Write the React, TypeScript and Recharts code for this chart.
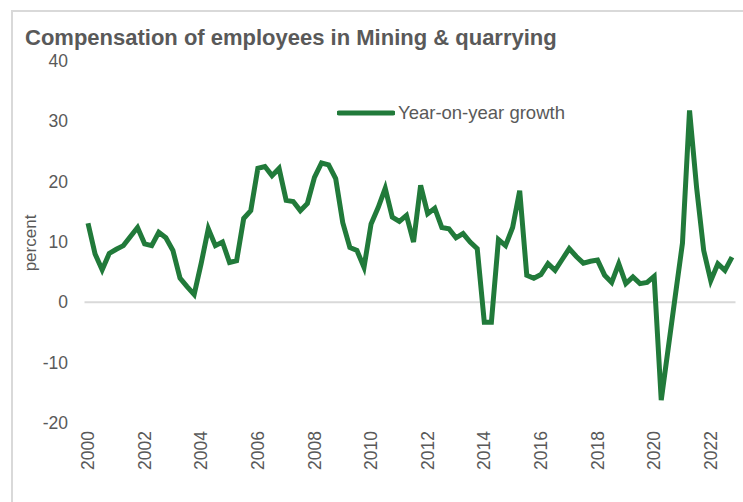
import React from 'react';
import { LineChart, Line, XAxis, YAxis, CartesianGrid } from 'recharts';

// Quarterly year-on-year growth, 2000 Q1 – 2022 Q4 (percent)
const years = [
  2000, 2001, 2002, 2003, 2004, 2005, 2006, 2007, 2008, 2009, 2010, 2011,
  2012, 2013, 2014, 2015, 2016, 2017, 2018, 2019, 2020, 2021, 2022,
];
const quarters = ['Q1', 'Q2', 'Q3', 'Q4'];
const growth = [
  13.1, 8.0, 5.4, 8.1,
  8.8, 9.4, 10.9, 12.4,
  9.7, 9.4, 11.6, 10.7,
  8.6, 4.0, 2.6, 1.3,
  6.5, 12.2, 9.4, 10.0,
  6.6, 6.9, 13.9, 15.2,
  22.2, 22.5, 21.0, 22.2,
  16.9, 16.7, 15.2, 16.4,
  20.7, 23.1, 22.8, 20.5,
  13.2, 9.1, 8.6, 5.8,
  13.0, 15.7, 18.9, 14.1,
  13.4, 14.4, 10.0, 19.4,
  14.7, 15.6, 12.4, 12.2,
  10.7, 11.4, 10.0, 8.9,
  -3.3, -3.3, 10.4, 9.4,
  12.4, 18.5, 4.5, 4.0,
  4.6, 6.4, 5.3, 7.1,
  8.9, 7.6, 6.5, 6.8,
  7.0, 4.5, 3.3, 6.4,
  3.1, 4.2, 3.1, 3.3,
  4.3, -16.2, -7.5, 1.2,
  9.8, 31.8, 19.0, 8.6,
  3.6, 6.4, 5.3, 7.5,
];
const yTicks = [-20, -10, 0, 10, 20, 30, 40];
const seriesName = 'Year-on-year growth';

const data = years.flatMap((y, i) =>
  quarters.map((q, j) => ({ period: `${y} ${q}`, growth: growth[i * 4 + j] }))
);

const FONT = '"Liberation Sans", Arial, sans-serif';
const TEXT = '#595959';
const GREEN = '#217a3a';

const XTick = ({ x, payload }: any) => (
  <text
    x={x}
    y={431}
    transform={`rotate(-90 ${x} 431)`}
    textAnchor="end"
    dy="0.35em"
    fill={TEXT}
    fontSize={17.5}
    fontFamily={FONT}
  >
    {String(payload.value).slice(0, 4)}
  </text>
);

const YTick = ({ y, payload }: any) => (
  <text x={68} y={y} textAnchor="end" dy="0.35em" fill={TEXT} fontSize={17.5} fontFamily={FONT}>
    {payload.value}
  </text>
);

export default function App() {
  return (
    <div style={{ position: 'absolute', left: 0, top: 0, width: 743, height: 502, background: '#fff', overflow: 'hidden' }}>
      <div
        style={{
          position: 'absolute',
          left: 11,
          top: 10,
          width: 760,
          height: 520,
          borderLeft: '2px solid #d9d9d9',
          borderTop: '2px solid #d9d9d9',
        }}
      />
      <div
        style={{
          position: 'absolute',
          left: 25,
          top: 27,
          fontFamily: FONT,
          fontWeight: 'bold',
          fontSize: 22,
          lineHeight: 1,
          color: TEXT,
          whiteSpace: 'nowrap',
        }}
      >
        Compensation of employees in Mining &amp; quarrying
      </div>
      <div
        style={{
          position: 'absolute',
          left: 31,
          top: 243,
          transform: 'translate(-50%, -50%) rotate(-90deg)',
          fontFamily: FONT,
          fontSize: 17,
          color: TEXT,
          whiteSpace: 'nowrap',
        }}
      >
        percent
      </div>
      <div style={{ position: 'absolute', left: 0, top: 0 }}>
        <LineChart width={743} height={502} data={data} margin={{ top: 61, right: 7.5, bottom: 0, left: 0 }}>
          <CartesianGrid vertical={false} horizontalValues={[0]} stroke="#d9d9d9" strokeWidth={2} />
          <XAxis
            dataKey="period"
            interval={7}
            height={79}
            padding={{ left: 3.5, right: 3.5 }}
            axisLine={false}
            tickLine={false}
            tick={<XTick />}
          />
          <YAxis
            width={84.5}
            domain={[-20, 40]}
            ticks={yTicks}
            axisLine={false}
            tickLine={false}
            tick={<YTick />}
          />
          <Line
            type="linear"
            dataKey="growth"
            name={seriesName}
            stroke={GREEN}
            strokeWidth={5}
            dot={false}
            isAnimationActive={false}
          />
        </LineChart>
      </div>
      <div
        style={{
          position: 'absolute',
          left: 337,
          top: 102,
          display: 'flex',
          alignItems: 'center',
          fontFamily: FONT,
          color: TEXT,
          fontSize: 18.5,
          lineHeight: '22px',
        }}
      >
        <svg width={58} height={10} style={{ marginRight: 3 }}>
          <line x1={2} y1={5} x2={56} y2={5} stroke={GREEN} strokeWidth={5} strokeLinecap="round" />
        </svg>
        <span>{seriesName}</span>
      </div>
    </div>
  );
}
